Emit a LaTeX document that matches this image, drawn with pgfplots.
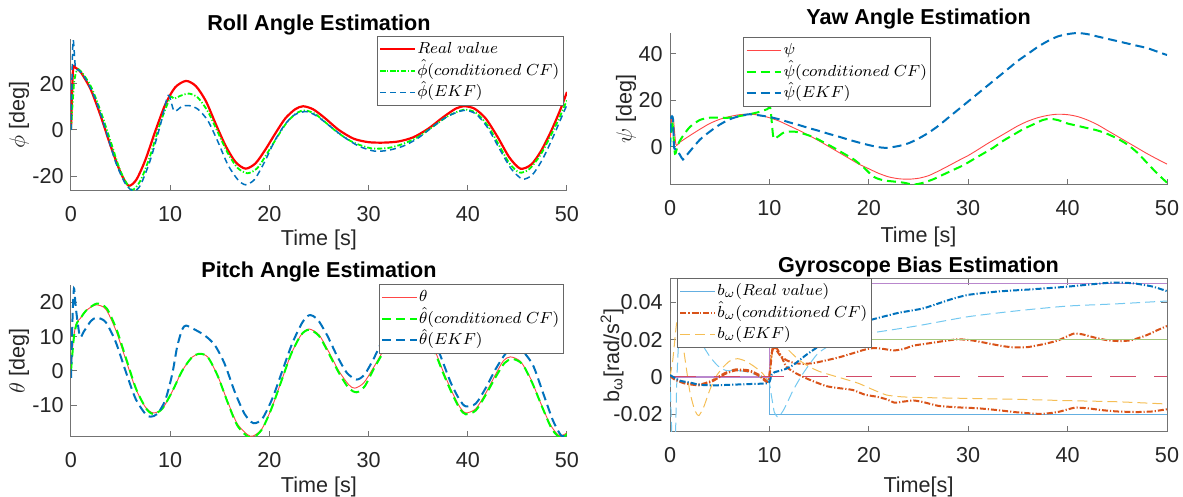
\documentclass[border=0pt]{standalone}
\usepackage[no-math]{fontspec}
\setmainfont{Liberation Sans}
\usepackage{pgfplots}
\pgfplotsset{compat=1.18}
\definecolor{tickc}{HTML}{262626}
\definecolor{mblue}{HTML}{0072BD}
\definecolor{mgreen}{HTML}{00FF00}
\definecolor{mred}{HTML}{FF0000}
\definecolor{lred}{RGB}{255,70,70}
\definecolor{rlblue}{RGB}{100,175,225}
\definecolor{rgreen}{RGB}{165,200,125}
\definecolor{rpurple}{RGB}{185,135,205}
\definecolor{rpink}{RGB}{210,75,105}
\definecolor{corange}{HTML}{D95319}
\definecolor{eyellow}{RGB}{245,190,85}
\definecolor{elblue}{RGB}{115,200,240}
\pgfplotsset{
  every axis title/.style={at={(0.5,1)}, anchor=center},
  myaxis/.style={
    scale only axis, xmin=0, xmax=50, xtick={0,10,...,50},
    tick align=inside, major tick length=3pt,
    axis line style={black!55, line width=0.5pt},
    tick style={black!55, line width=0.5pt},
    ticklabel style={font=\fontsize{10.8}{13}\selectfont, text=tickc},
    /pgf/number format/assume math mode=true,
    xticklabel style={anchor=center, yshift=-11.5pt},
    yticklabel style={anchor=east, inner sep=0pt, xshift=-3.5pt},
    title style={font=\bfseries\fontsize{10.8}{13}\selectfont},
    label style={font=\fontsize{10.8}{13}\selectfont, text=tickc},
    legend style={font=\fontsize{8.4}{10}\selectfont, draw=black!60, line width=0.5pt, fill=white, inner sep=1pt,
      nodes={inner sep=0.9pt, text height=6.6pt, text depth=2.4pt}},
    legend cell align=left,
  },
  lopen/.style={axis x line*=bottom, axis y line*=left},
  lreal/.style={mred, line width=1.1pt, smooth, tension=0.45},
  lcf/.style={mgreen, line width=0.9pt, dash pattern=on 2.5pt off 1pt on 0.6pt off 1pt, smooth, tension=0.45},
  lekf/.style={mblue, line width=0.75pt, dash pattern=on 3pt off 2pt, smooth, tension=0.45},
  treal/.style={lred, line width=0.45pt, smooth, tension=0.45},
  tcf/.style={mgreen, line width=1pt, dash pattern=on 4.5pt off 2.5pt, smooth, tension=0.45},
  tekf/.style={mblue, line width=1pt, dash pattern=on 4.5pt off 2.5pt, smooth, tension=0.45},
  gcf/.style={line width=1pt, dash pattern=on 3pt off 1pt on 0.6pt off 1pt, smooth, tension=0.35},
  gekf/.style={line width=0.5pt, dash pattern=on 5pt off 2.5pt, smooth, tension=0.35},
}
\begin{document}
\begin{tikzpicture}
\useasboundingbox (0,0) rectangle (591.5pt,248.5pt);
% ---------------- Roll ----------------
\begin{axis}[myaxis, lopen, at={(35.5pt,153pt)}, anchor=south west, width=248pt, height=76pt,
  ymin=-26.5, ymax=39.5, ytick={-20,0,20},
  title={Roll Angle Estimation}, title style={yshift=7pt},
  xlabel={Time [s]}, xlabel style={at={([yshift=-24.5pt]axis description cs:0.5,0)}, anchor=center},
  ylabel={$\phi$ [deg]}, ylabel style={at={([xshift=-26pt]axis description cs:0,0.5)}, anchor=center},
  legend style={at={(0.993,1.02)}, anchor=north east}]
\addplot[lreal] coordinates {(0,0) (0.2,26) (0.45,27) (1,25) (2,17.5) (3,6) (4,-7) (5,-18.5) (5.8,-24.2) (6.6,-21.5) (7.5,-13) (8.5,-0.5) (9.5,11) (10.5,18.5) (11.6,21.3) (12.6,19) (13.6,12.5) (14.6,2.5) (15.6,-7) (16.6,-14) (17.6,-16.8) (18.6,-14.5) (19.6,-8.5) (20.6,-1.5) (21.6,5) (22.6,9) (23.4,10.3) (24.4,9) (25.5,5.5) (27,0) (28.5,-3.8) (30,-5.3) (31.5,-5.5) (33,-5) (34.5,-3.2) (36,0.5) (37.5,5.5) (38.8,9.3) (39.7,10.3) (40.7,9.2) (41.8,5) (43,-3) (44.2,-12) (45.3,-16.8) (46.4,-15) (47.4,-9) (48.4,-0.5) (49.3,8.5) (50,16.5)};
\addlegendentry{$Real\ value$}
\addplot[lcf] coordinates {(0,0) (0.3,20) (0.6,26) (1,25.5) (2,19) (3,8) (4,-5) (5,-18) (6.1,-26) (7,-22) (8,-11) (9,3) (10,14) (10.4,13.5) (11,14.8) (11.9,15.8) (12.8,14) (13.8,8) (14.8,-1) (15.8,-10) (16.8,-16.5) (17.8,-18.8) (18.8,-16.5) (19.8,-10) (20.8,-3) (21.8,3.5) (22.8,7.5) (23.6,8.5) (24.6,7) (25.6,3.5) (27,-1.5) (28.5,-5.5) (30.3,-8) (32,-7.8) (33.5,-6) (35,-3) (36.5,1.5) (38,6) (39.6,8.8) (40.8,7.5) (42,2) (43.2,-7) (44.2,-14.5) (45.2,-18.5) (46.2,-17) (47.3,-11) (48.3,-3) (49.2,5) (50,13)};
\addlegendentry{$\hat{\phi}(conditioned\ CF)$}
\addplot[lekf] coordinates {(0,0) (0.2,38.5) (0.45,27) (0.8,26) (1.5,22) (2.5,13) (3.5,0) (4.5,-14) (5.5,-23.5) (6.3,-26.5) (7,-24) (8,-13) (9,2) (9.8,15) (10.4,8.2) (11.2,10.3) (11.9,10.6) (12.8,9) (13.8,4) (14.8,-5) (15.8,-15) (16.8,-21.5) (17.6,-23.8) (18.5,-21.5) (19.5,-14) (20.5,-5) (21.5,2) (22.5,6.5) (23.7,8) (24.8,6) (26,2) (27.5,-3) (29,-7) (30.6,-9.2) (32,-8.8) (33.5,-7) (35,-3.5) (36.5,1.5) (38,6) (39.6,8.5) (40.8,7) (42,1) (43.3,-9) (44.4,-17) (45.5,-21.3) (46.5,-19.5) (47.5,-13) (48.5,-4) (49.3,4) (50,11)};
\addlegendentry{$\hat{\phi}(EKF)$}
\end{axis}
% ---------------- Yaw ----------------
\begin{axis}[myaxis, lopen, at={(335pt,156pt)}, anchor=south west, width=248.5pt, height=76pt,
  ymin=-16.5, ymax=49, ytick={0,20,40},
  title={Yaw Angle Estimation}, title style={yshift=7pt},
  xlabel={Time [s]}, xlabel style={at={([yshift=-26pt]axis description cs:0.5,0)}, anchor=center},
  ylabel={$\psi$ [deg]}, ylabel style={at={([xshift=-22pt]axis description cs:0,0.5)}, anchor=center},
  legend style={at={(0.147,0.974)}, anchor=north west}]
\addplot[treal] coordinates {(0,0) (0.15,11.5) (0.35,11.5) (0.6,1) (1,2) (2,4.8) (3,7.5) (4,10) (5,11.8) (6,13) (7,13.8) (8,14) (9,13.6) (10,12.5) (11,11) (12,9) (13,7) (14,4.8) (15,2.5) (16,0) (17,-2.5) (18,-5) (19,-7.5) (20,-9.5) (21,-11.5) (22,-13) (23,-13.8) (24,-14) (25,-13.6) (26,-12.5) (27,-10.5) (28,-8.3) (29,-6) (30,-3.8) (31,-1.2) (32,1.5) (33,4) (34,6.5) (35,9) (36,11) (37,12.5) (38,13.5) (39,14) (40,13.8) (41,13) (42,11.5) (43,9.5) (44,7) (45,4.5) (46,2) (47,-0.5) (48,-3) (49,-5.3) (50,-7.5)};
\addlegendentry{$\psi$}
\addplot[tcf] coordinates {(0,0) (0.15,11) (0.3,8) (0.5,-3) (0.8,1) (1.2,4) (2,8.5) (3,11.5) (4,12.5) (5,12.5) (6,12.5) (7,13.2) (8,14) (9,15) (9.8,16.2) (10.1,16.5) (10.4,4) (10.8,4.2) (11.5,6.2) (12.5,6.5) (13.5,5.5) (14.5,4) (15.5,1.8) (16.5,-0.5) (17.5,-3) (18.5,-5.5) (19.5,-9) (20.5,-13) (21.5,-14.5) (22.5,-15) (23.5,-15.5) (24.5,-16.3) (25.5,-15.5) (26.5,-14) (27.5,-12) (28.5,-10) (29.5,-8) (30.5,-5.5) (31.5,-3) (32.5,-0.5) (33.5,2.5) (34.5,5) (35.5,7.5) (36.5,9.5) (37.5,11.5) (38.2,12) (39,11.5) (40,10) (41,9) (42,8) (43,7) (44,5.5) (45,3.5) (46,1) (47,-2.5) (48,-7) (49,-11.5) (50,-15.5)};
\addlegendentry{$\hat{\psi}(conditioned\ CF)$}
\addplot[tekf] coordinates {(0,0) (0.1,12) (0.3,12) (0.4,0) (0.6,-1) (1,-3.5) (1.3,-5.5) (1.6,-4) (2,-2) (3,3) (4,6.5) (5,9.5) (6,11.8) (7,13.2) (8,14) (9,13.5) (10,12.8) (11,11.8) (12,10.5) (13,9.3) (14,8) (15,6.8) (16,5.5) (17,4.3) (18,3) (19,1.8) (20,0.7) (21,-0.2) (21.8,-0.5) (23,0.3) (24,1.5) (25,3.5) (26,6) (27,9) (28,12.5) (29,16) (30,19.5) (31,23) (32,26.5) (33,30) (34,33.5) (35,37) (36,40) (37,43) (38,45.5) (39,47.5) (40,48.5) (41,49) (42,48.5) (43,47.5) (44,46.5) (45,45.5) (46,44.5) (47,43.5) (48,42.5) (49,41) (50,39.5)};
\addlegendentry{$\hat{\psi}(EKF)$}
\end{axis}
% ---------------- Pitch ----------------
\begin{axis}[myaxis, lopen, at={(35.5pt,30pt)}, anchor=south west, width=248pt, height=76pt,
  ymin=-19.2, ymax=25, ytick={-10,0,10,20},
  title={Pitch Angle Estimation}, title style={yshift=6.5pt},
  xlabel={Time [s]}, xlabel style={at={([yshift=-25pt]axis description cs:0.5,0)}, anchor=center},
  ylabel={$\theta$ [deg]}, ylabel style={at={([xshift=-26pt]axis description cs:0,0.5)}, anchor=center},
  legend style={at={(0.993,1.007)}, anchor=north east}]
\addplot[treal] coordinates {(0,0) (0.2,8) (0.5,13.5) (1,15.5) (1.5,17.5) (2.5,19.2) (3.5,18) (4.5,12) (5.5,3.5) (6.5,-5) (7.5,-10.5) (8.3,-12.2) (9.2,-11) (10.2,-6) (11.2,0) (12.2,4) (13,5) (13.8,4) (14.8,-1.5) (15.8,-9) (16.8,-15.5) (18.1,-19) (19.2,-17) (20.2,-11) (21.2,-3) (22.2,5) (23.2,10.5) (24,12.2) (25,10.5) (26,5.5) (27,0) (28,-4) (28.6,-5) (29.5,-3.5) (30.5,1) (31.5,6) (32.5,10.5) (33.6,13.2) (34.6,13.5) (35.6,11.5) (36.6,6.5) (37.5,0) (38.4,-6) (39.2,-10.5) (39.8,-12.2) (40.8,-11) (41.8,-6.5) (42.8,-1) (43.6,3) (44.3,4.1) (45.3,2.8) (46.3,-2) (47.3,-9) (48.3,-15.5) (49.2,-18.8) (50,-18)};
\addlegendentry{$\theta$}
\addplot[tcf] coordinates {(0,0) (0.3,10) (0.6,14) (1,15.5) (1.5,17.5) (2.6,19.6) (3.6,18.2) (4.6,12) (5.6,3.2) (6.6,-5.5) (7.6,-11) (8.3,-12.5) (9.2,-11) (10.2,-6) (11.2,0) (12.2,4) (13,5) (13.8,4) (14.8,-1.5) (15.8,-9.2) (16.8,-16) (18.1,-19.5) (19.2,-17.2) (20.2,-11) (21.2,-3) (22.2,5) (23.2,10.5) (24,12) (25,10.2) (26,5) (27,-0.5) (28,-5) (28.8,-6.2) (29.6,-4.5) (30.5,0.5) (31.5,5.5) (32.5,10) (33.6,12.8) (34.6,13) (35.6,11) (36.6,6) (37.5,-0.5) (38.4,-6.5) (39.2,-11) (39.8,-12.6) (40.8,-11.5) (41.8,-7) (42.8,-1.8) (43.7,2.3) (44.5,3.5) (45.5,2) (46.5,-3.5) (47.5,-10.5) (48.5,-17) (49.4,-19.5) (50,-18.3)};
\addlegendentry{$\hat{\theta}(conditioned\ CF)$}
\addplot[tekf] coordinates {(0,-2) (0.15,15) (0.3,24) (0.5,18) (0.9,10) (1.3,11.5) (2,14.5) (2.6,15.5) (3.5,14.2) (4.5,8.5) (5.5,0) (6.5,-8) (7.5,-12.5) (8,-13.3) (8.7,-12.5) (9.5,-8.5) (10.2,-1) (10.7,7) (11.2,12) (11.6,13.2) (12.5,12) (13.5,10.3) (14.5,7.5) (15.5,2) (16.5,-6) (17.5,-12.5) (18.4,-15.2) (19.3,-13.8) (20.3,-8) (21.3,0) (22.3,8) (23.3,14) (24,16.2) (24.8,15.2) (25.8,10.5) (26.8,4.5) (27.8,-0.5) (28.8,-2.5) (29.6,-1) (30.5,3.5) (31.5,9.5) (32.5,14) (33.5,16.5) (34.3,17) (35.3,15.5) (36.3,11) (37.3,4) (38.3,-3.5) (39.2,-8.5) (39.8,-10.3) (40.8,-9.5) (41.8,-5) (42.8,0.5) (43.8,5) (44.6,6.5) (45.6,5.5) (46.6,1.5) (47.6,-6.5) (48.6,-14.5) (49.4,-18.7) (50,-18.8)};
\addlegendentry{$\hat{\theta}(EKF)$}
\end{axis}
% ---------------- Gyro bias ----------------
\begin{axis}[myaxis, at={(335pt,32.5pt)}, anchor=south west, width=248.5pt, height=76.5pt,
  ymin=-0.0295, ymax=0.0525, ytick={-0.02,0,0.02,0.04}, scaled y ticks=false,
  yticklabel style={/pgf/number format/fixed, /pgf/number format/precision=2},
  title={Gyroscope Bias Estimation}, title style={yshift=6pt},
  xlabel={Time[s]}, xlabel style={at={([yshift=-27.5pt]axis description cs:0.5,0)}, anchor=center},
  ylabel={b\textsubscript{ω}[rad/s\textsuperscript{2}]}, ylabel style={at={([xshift=-29pt]axis description cs:0,0.5)}, anchor=center},
  legend style={at={(0.014,1.007)}, anchor=north west}]
\addplot[rlblue, line width=0.55pt] coordinates {(0,0) (10,0) (10,-0.02) (50,-0.02)};
\addlegendentry{$b_\omega(Real\ value)$}
\addplot[gcf, corange] coordinates {(0,0.001) (0.5,-0.001) (1.5,-0.003) (3,-0.004) (4.2,-0.002) (5.5,0.002) (6.6,0.004) (8,0.0035) (9,0.001) (9.9,-0.002) (10.2,0.012) (10.5,0.016) (11,0.012) (11.7,0.009) (12.5,0.0075) (13.4,0.007) (14.5,0.0075) (15.8,0.009) (17,0.0105) (18.4,0.0127) (19.5,0.0145) (20.5,0.0155) (21.5,0.015) (22.5,0.0142) (23.5,0.015) (24.5,0.0168) (26,0.018) (27.5,0.0192) (29,0.0202) (30.5,0.0195) (32,0.018) (33.5,0.0165) (34.7,0.0158) (36,0.016) (37.5,0.0175) (39,0.0195) (40.6,0.0232) (41.5,0.0228) (42.8,0.021) (44,0.0197) (45.3,0.0192) (46.5,0.0198) (48,0.0225) (49,0.025) (50,0.0273)};
\addlegendentry{$\hat{b}_\omega(conditioned\ CF)$}
\addplot[gekf, eyellow] coordinates {(0,0) (0.3,0.01) (0.7,0.03) (1.1,0.025) (1.5,0.01) (2,-0.008) (2.5,-0.018) (2.9,-0.0207) (3.4,-0.016) (4,-0.007) (4.6,0.0) (5.3,0.005) (6,0.0085) (6.8,0.0098) (7.6,0.0085) (8.5,0.0055) (9.3,0.002) (9.9,-0.0015) (10.2,0.01) (10.6,0.022) (11.2,0.019) (12,0.014) (13,0.009) (14,0.0055) (15,0.003) (16.2,0.001) (17.5,-0.001) (19,-0.0035) (20.5,-0.007) (21.8,-0.0097) (23.2,-0.0106) (25,-0.011) (30,-0.0115) (35,-0.012) (40,-0.0127) (45,-0.0133) (50,-0.0145)};
\addlegendentry{$b_\omega(EKF)$}
\addplot[rgreen, line width=0.55pt, forget plot] coordinates {(0,0) (10,0) (10,0.02) (50,0.02)};
\addplot[rpurple, line width=0.7pt, forget plot] coordinates {(0,0) (10,0) (10,0.05) (50,0.05)};
\addplot[rpink, line width=0.5pt, dash pattern=on 13pt off 9pt, forget plot] coordinates {(0,0) (50,0)};
\addplot[gekf, elblue, forget plot] coordinates {(0,0) (0.25,-0.04) (0.5,-0.04) (0.7,0.0) (1,0.03) (1.5,0.04) (2,0.035) (2.5,0.028) (3.2,0.018) (4,0.011) (4.8,0.006) (5.6,0.0035) (6.5,0.0035) (7.5,0.003) (8.5,0.0015) (9.9,-0.002) (10.2,-0.01) (10.5,-0.019) (10.9,-0.0215) (11.5,-0.017) (12.4,-0.007) (13.4,0.002) (14.9,0.0127) (16.8,0.019) (19,0.0225) (22,0.025) (25,0.0275) (30,0.0323) (35,0.0355) (40,0.038) (45,0.0392) (50,0.0407)};
\addplot[gcf, corange, forget plot] coordinates {(0,0.0005) (0.5,-0.0015) (1.5,-0.0035) (3,-0.0045) (4.2,-0.0025) (5.5,0.0015) (6.6,0.0035) (8,0.003) (9,0.0005) (9.9,-0.0025) (10.3,0.015) (10.6,0.0165) (11.2,0.011) (11.7,0.0055) (12.5,0.0025) (13.4,0) (14.5,-0.0025) (15.8,-0.005) (17,-0.006) (18.4,-0.007) (19.6,-0.0095) (20.8,-0.0106) (21.8,-0.012) (22.6,-0.0138) (23.5,-0.0132) (24.5,-0.0126) (25.5,-0.0135) (27,-0.0155) (29,-0.0163) (31,-0.0168) (33,-0.0178) (35,-0.019) (37.3,-0.0198) (39,-0.0188) (40.7,-0.0165) (42,-0.0168) (43.5,-0.0178) (45,-0.0185) (47,-0.0188) (48.5,-0.0185) (50,-0.0173)};
\addplot[gcf, mblue, forget plot] coordinates {(0,0.001) (1,-0.002) (2,-0.003) (3,-0.0042) (4.5,-0.0045) (6,-0.0042) (8,-0.0038) (9.9,-0.0032) (10.2,0.001) (10.5,0.0025) (11.5,0.004) (12.4,0.0064) (13.7,0.0118) (15.4,0.018) (17.1,0.0236) (18.7,0.028) (20,0.0303) (22.1,0.0332) (23.1,0.0345) (25.5,0.0368) (28.2,0.0415) (30,0.044) (33,0.0458) (36.5,0.047) (40,0.0484) (42.5,0.0497) (44.6,0.0506) (46.6,0.0502) (48.5,0.0485) (50,0.046)};
\end{axis}
\end{tikzpicture}
\end{document}
